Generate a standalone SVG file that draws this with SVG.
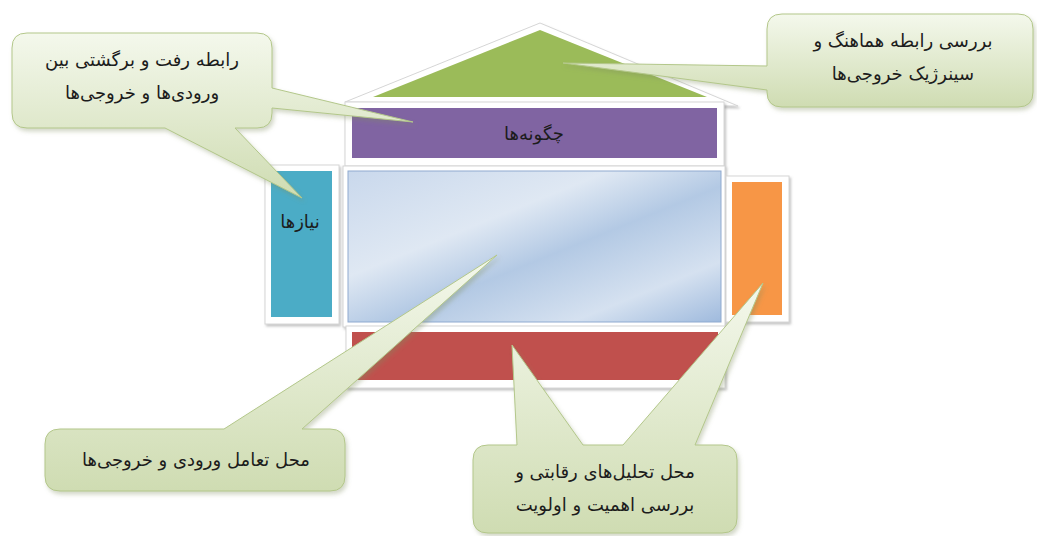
<svg xmlns="http://www.w3.org/2000/svg" width="1037" height="536" viewBox="0 0 1037 536">
<defs>
<style>
.frame{fill:#ffffff;stroke:#d6d6d6;stroke-width:1;filter:url(#sh)}
.call{fill:url(#cg);stroke:#b3c78a;stroke-width:1;filter:url(#csh)}
.t{font-family:"DejaVu Sans",sans-serif;font-size:18px;fill:#1c1c1c;text-anchor:middle;direction:rtl}
</style>
<linearGradient id="cg" x1="0" y1="0" x2="0" y2="1">
<stop offset="0" stop-color="#f4f8ec"/>
<stop offset="1" stop-color="#cfdcb2"/>
</linearGradient>
<linearGradient id="bg" x1="0" y1="0" x2="1" y2="1">
<stop offset="0" stop-color="#c9d8ec"/>
<stop offset="0.35" stop-color="#dfe8f3"/>
<stop offset="0.55" stop-color="#b3c9e4"/>
<stop offset="0.8" stop-color="#d5e1f0"/>
<stop offset="1" stop-color="#9fbadd"/>
</linearGradient>
<filter id="sh" x="-10%" y="-10%" width="120%" height="130%">
<feDropShadow dx="1.5" dy="2" stdDeviation="1" flood-color="#8a8a8a" flood-opacity="0.5"/>
</filter>
<filter id="csh" x="-10%" y="-10%" width="125%" height="130%">
<feDropShadow dx="2" dy="3" stdDeviation="2" flood-color="#7f8f60" flood-opacity="0.35"/>
</filter>
</defs>
<rect width="1037" height="536" fill="#ffffff"/>

<g id="roof">
<polygon class="frame" points="345,102 540,23 738,106"/>
<polygon points="373,97 540,30 707,97" fill="#9bbb59"/>
</g>
<g id="hows">
<rect class="frame" x="345" y="102" width="379" height="64"/>
<rect x="352" y="108" width="365" height="50" fill="#8064a2"/>
<text class="t" x="534" y="140">چگونه‌ها</text>
</g>
<g id="core">
<rect class="frame" x="343" y="166" width="382" height="161"/>
<rect x="348" y="171" width="373" height="151" fill="url(#bg)" stroke="#8faad0" stroke-width="1"/>
</g>
<g id="needs">
<rect class="frame" x="265" y="165" width="74" height="159"/>
<rect x="271" y="171" width="61" height="146" fill="#4bacc6"/>
<text class="t" x="300" y="228">نیازها</text>
</g>
<g id="outputs">
<rect class="frame" x="726" y="176" width="63" height="146"/>
<rect x="732" y="182" width="50" height="133" fill="#f79646"/>
</g>
<g id="base">
<rect class="frame" x="346" y="326" width="379" height="62"/>
<rect x="352" y="332" width="366" height="48" fill="#c0504d"/>
</g>

<g id="callout-feedback">
<path class="call" d="M27,33 H257 Q272,33 272,48 V88 L413,122 L272,108 V113 Q272,128 257,128 H235 L302,198 L165,128 H27 Q12,128 12,113 V48 Q12,33 27,33 Z"/>
<text class="t" x="142" y="66">رابطه رفت و برگشتی بین</text>
<text class="t" x="142" y="99">ورودی‌ها و خروجی‌ها</text>
</g>
<g id="callout-synergy">
<path class="call" d="M782,14 H1018 Q1033,14 1033,29 V92 Q1033,107 1018,107 H782 Q767,107 767,92 V90 L563,63 L767,66 V29 Q767,14 782,14 Z"/>
<text class="t" x="903" y="47">بررسی رابطه هماهنگ و</text>
<text class="t" x="903" y="80">سینرژیک خروجی‌ها</text>
</g>
<g id="callout-interaction">
<path class="call" d="M60,429 H224 L497,255 L302,429 H330 Q345,429 345,444 V476 Q345,491 330,491 H60 Q45,491 45,476 V444 Q45,429 60,429 Z"/>
<text class="t" x="196" y="466">محل تعامل ورودی و خروجی‌ها</text>
</g>
<g id="callout-competition">
<path class="call" d="M488,445 H517 L512,345 L583,445 H623 L763,283 L695,445 H722 Q737,445 737,460 V518 Q737,533 722,533 H488 Q473,533 473,518 V460 Q473,445 488,445 Z"/>
<text class="t" x="605" y="478">محل تحلیل‌های رقابتی و</text>
<text class="t" x="605" y="511">بررسی اهمیت و اولویت</text>
</g>
<g id="connectors"/>
</svg>
